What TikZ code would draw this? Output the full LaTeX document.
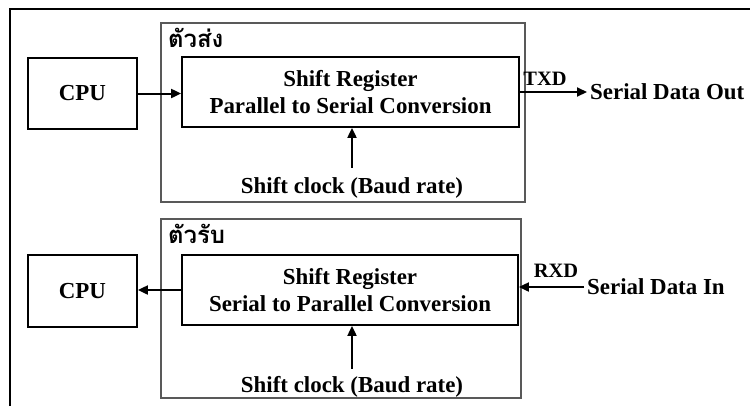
\documentclass[tikz,border=0pt]{standalone}
\usepackage{fontspec}
\setmainfont{Liberation Serif}
\newfontfamily\thaifont[Script=Thai]{Loma}
\usetikzlibrary{arrows.meta}

\begin{document}
\begin{tikzpicture}[x=1bp,y=-1bp,
		every node/.style={font=\fontsize{23}{28}\selectfont\bfseries},
		blk/.style={draw,line width=1.8bp,inner sep=0pt},
		grp/.style={draw=black!65,line width=1.3bp,inner sep=0pt},
		lbl/.style={font=\fontsize{24}{28}\selectfont\thaifont\bfseries,inner sep=0pt,anchor=north west},
		pin/.style={font=\fontsize{20.5}{24}\selectfont\bfseries},
		arr/.style={-{Triangle[length=10bp,width=9bp]},line width=2bp}]
		\useasboundingbox (0,0) rectangle (750,406);
		\draw[line width=1.2bp] (10,406) -- (10,9) -- (750,9);

		% sender
		\draw (343,112.5) node (tx) [grp,minimum width=364bp,minimum height=179bp] {};
		\draw (168,28) node (txlbl) [lbl] {ตัวส่ง};
		\draw (82.5,93.5) node (cpu1) [blk,minimum width=109bp,minimum height=71bp] {CPU};
		\draw (350.5,92) node (sr1) [blk,minimum width=337bp,minimum height=70bp,align=center] {Shift Register\\Parallel to Serial Conversion};
		\draw (352,188) node (clk1) {Shift clock (Baud rate)};
		\draw (545,79) node (txd) [pin] {TXD};
		\draw (587,92) node (sout) [anchor=west,inner sep=3bp] {Serial Data Out};

		\draw[arr] (cpu1.east) -- (cpu1.east -| sr1.west);
		\draw[arr, shorten <=6bp] (clk1.north) -- (clk1.north |- sr1.south);
		\draw[arr] (sr1.east) -- (sout.west);

		% receiver
		\draw (341,308.5) node (rx) [grp,minimum width=360bp,minimum height=179bp] {};
		\draw (168,224) node (rxlbl) [lbl] {ตัวรับ};
		\draw (82.5,291) node (cpu2) [blk,minimum width=109bp,minimum height=72bp] {CPU};
		\draw (350,290) node (sr2) [blk,minimum width=336bp,minimum height=70bp,align=center] {Shift Register\\Serial to Parallel Conversion};
		\draw (352,387) node (clk2) {Shift clock (Baud rate)};
		\draw (556,271) node (rxd) [pin] {RXD};
		\draw (584,287) node (sin) [anchor=west,inner sep=3bp] {Serial Data In};

		\draw[arr] (sr2.west) -- (sr2.west -| cpu2.east);
		\draw[arr, shorten <=4bp] (clk2.north) -- (clk2.north |- sr2.south);
		\draw[arr] (sin.west) -- (sin.west -| sr2.east);

	\end{tikzpicture}
\end{document}
